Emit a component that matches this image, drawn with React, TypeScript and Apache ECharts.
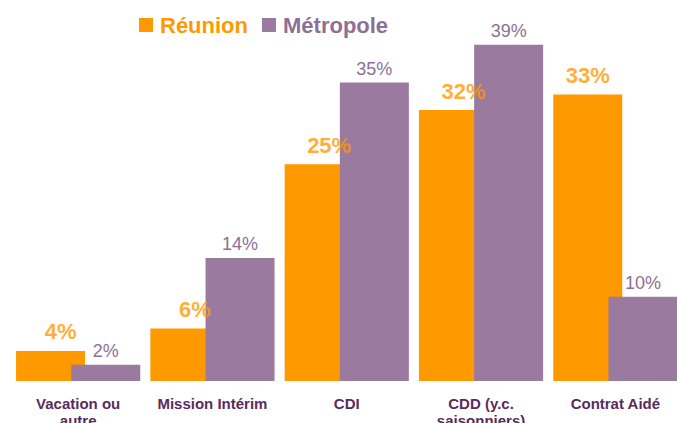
import React, { useEffect, useRef } from "react";
import * as echarts from "echarts";

const categories = ["Vacation ou\nautre", "Mission Intérim", "CDI", "CDD (y.c.\nsaisonniers)", "Contrat Aidé"];
const reunionValues = [3.5, 6.1, 25.2, 31.5, 33.3];
const metropoleValues = [1.9, 14.3, 34.7, 39.1, 9.8];
const seriesNames = ["Réunion", "Métropole"];

const ORANGE = "#FF9900";
const PURPLE = "#9A7A9E";
const PURPLE_TEXT = "#8E6F95";
const DARK = "#5A2B5E";
const FONT = "Liberation Sans";

export default function App() {
  const ref = useRef<HTMLDivElement>(null);
  useEffect(() => {
    if (!ref.current) return;
    const chart = echarts.init(ref.current, undefined, { renderer: "svg" });
    const fmt = (p: any) => Math.round(p.value) + "%";
    chart.setOption({
      animation: false,
      backgroundColor: "#ffffff",
      textStyle: { fontFamily: FONT },
      legend: {
        left: 134,
        top: 9,
        icon: "rect",
        itemWidth: 14,
        itemHeight: 14,
        itemGap: 14,
        textStyle: { fontSize: 22, fontWeight: "bold", fontFamily: FONT, padding: [0, 0, 0, 2] },
        data: [
          { name: seriesNames[0], textStyle: { color: ORANGE } },
          { name: seriesNames[1], textStyle: { color: PURPLE_TEXT } },
        ],
      },
      grid: { left: 11, top: 37, width: 671.5, bottom: 42, containLabel: false, outerBoundsMode: "none" },
      xAxis: {
        type: "category",
        data: categories,
        axisLine: { show: false },
        axisTick: { show: false },
        axisLabel: {
          interval: 0,
          margin: 14,
          color: DARK,
          fontSize: 15,
          fontWeight: "bold",
          fontFamily: FONT,
          lineHeight: 17,
        },
      },
      yAxis: { type: "value", min: 0, max: 40, show: false, splitLine: { show: false } },
      series: [
        {
          name: seriesNames[0],
          type: "bar",
          data: reunionValues,
          barWidth: 69,
          barGap: "-20%",
          itemStyle: { color: ORANGE },
          z: 2,
        },
        {
          name: seriesNames[1],
          type: "bar",
          data: metropoleValues,
          barWidth: 69,
          barGap: "-20%",
          itemStyle: { color: PURPLE },
          label: {
            show: true,
            position: "top",
            distance: 5,
            formatter: fmt,
            color: PURPLE_TEXT,
            fontSize: 18,
            fontFamily: FONT,
          },
          z: 3,
        },
        {
          name: "labels-" + seriesNames[0],
          type: "scatter",
          data: reunionValues.map((v, i) => ({
            value: v,
            label: { offset: [i === reunionValues.length - 1 ? -27.6 : -17.6, 0] },
          })),
          symbolSize: 0,
          silent: true,
          tooltip: { show: false },
          label: {
            show: true,
            position: "top",
            distance: 8,
            formatter: fmt,
            color: ORANGE,
            fontSize: 22,
            fontWeight: "bold",
            fontFamily: FONT,
          },
          z: 10,
        },
      ],
    });
    return () => chart.dispose();
  }, []);
  return (
    <div
      ref={ref}
      style={{ position: "fixed", left: 0, top: 0, width: 677, height: 423, background: "#fff" }}
    />
  );
}
